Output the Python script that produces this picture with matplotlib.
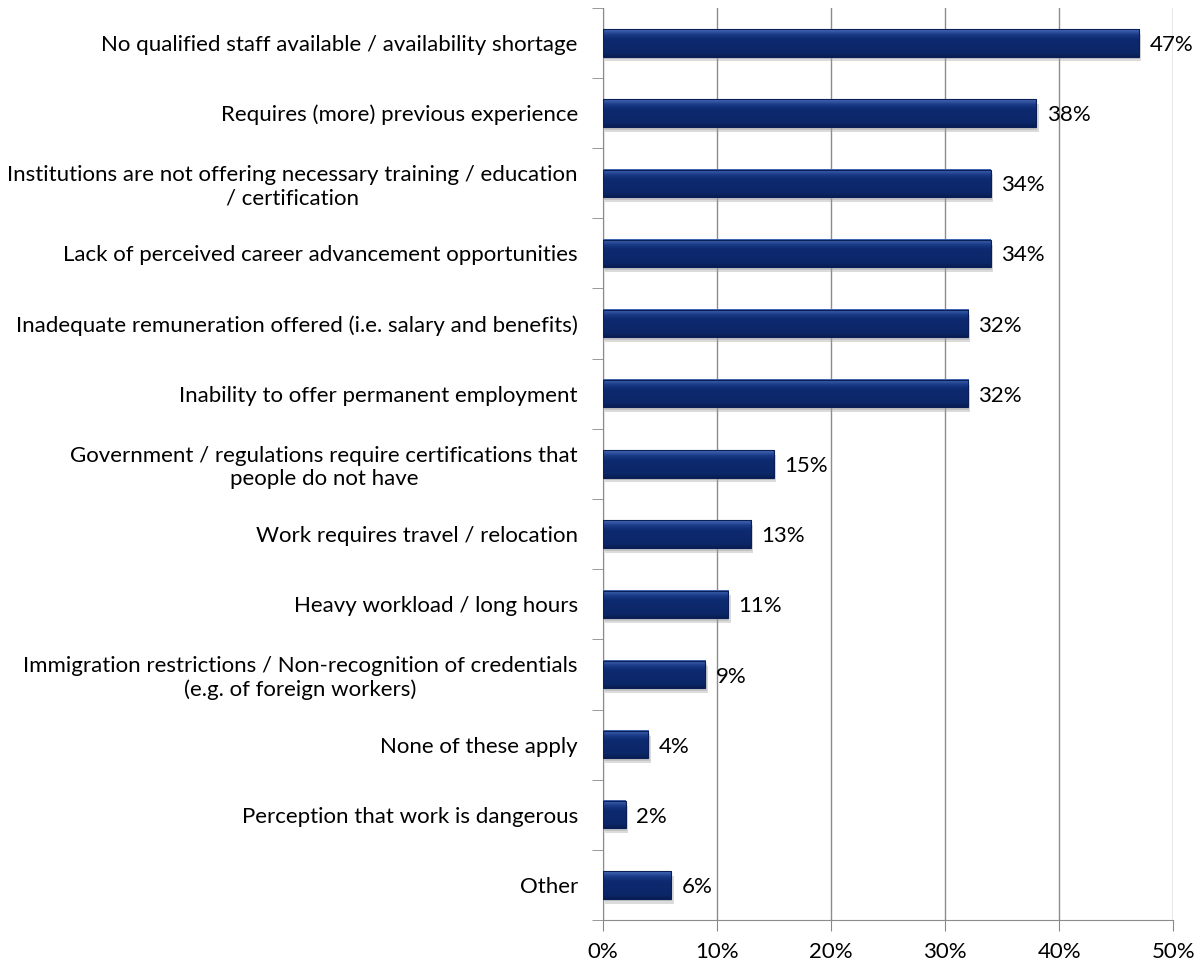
import matplotlib.pyplot as plt
import numpy as np
from matplotlib.colors import LinearSegmentedColormap

categories = [
    "No qualified staff available / availability shortage",
    "Requires (more) previous experience",
    "Institutions are not offering necessary training / education\n/ certification",
    "Lack of perceived career advancement opportunities",
    "Inadequate remuneration offered (i.e. salary and benefits)",
    "Inability to offer permanent employment",
    "Government / regulations require certifications that\npeople do not have",
    "Work requires travel / relocation",
    "Heavy workload / long hours",
    "Immigration restrictions / Non-recognition of credentials\n(e.g. of foreign workers)",
    "None of these apply",
    "Perception that work is dangerous",
    "Other",
]
values = [47, 38, 34, 34, 32, 32, 15, 13, 11, 9, 4, 2, 6]
xticks = [0, 10, 20, 30, 40, 50]
xtick_labels = ["0%", "10%", "20%", "30%", "40%", "50%"]

plt.rcParams["font.family"] = ["Lato", "DejaVu Sans"]
FS = 16

fig = plt.figure(figsize=(11.96, 9.71), dpi=100)
ax = fig.add_axes([0.504, 0.0525, 0.477, 0.9395])

n = len(categories)
y = np.arange(n)
h = 0.39

# bevel-like vertical gradient for each bar
cmap = LinearSegmentedColormap.from_list(
    "bevel", [(0, "#4a6cb8"), (0.18, "#1b3d8a"), (0.35, "#0e2a70"), (0.85, "#0c2768"), (1, "#081d52")]
)
grad = np.linspace(0, 1, 64).reshape(-1, 1)

for yi, v in zip(y, values):
    # soft shadow below the bar
    ax.barh(yi + 0.07, v, height=h, left=0.2, color="#9a9a9a", alpha=0.35, zorder=2, linewidth=0)
    ax.barh(yi + 0.04, v, height=h, left=0.1, color="#9a9a9a", alpha=0.35, zorder=2, linewidth=0)
    ax.imshow(grad, cmap=cmap, aspect="auto", extent=(0, v, yi + h / 2, yi - h / 2),
              zorder=3, interpolation="bilinear")
    ax.barh(yi, v, height=h, fill=False, edgecolor="#0a1f55", linewidth=0.8, zorder=4)
    ax.text(v + 0.9, yi + 0.03, f"{v}%", va="center", ha="left", fontsize=FS, zorder=5)

ax.set_ylim(n - 0.5, -0.5)
ax.set_xlim(0, 50)
ax.set_yticks(y)
ax.set_yticklabels(categories, fontsize=FS)
ax.set_yticks(np.arange(-0.5, n, 1), minor=True)
ax.tick_params(axis="y", which="major", length=0, pad=18)
ax.tick_params(axis="y", which="minor", length=8, color="#888888", direction="out")
ax.set_xticks(xticks)
ax.set_xticklabels(xtick_labels, fontsize=FS)
ax.tick_params(axis="x", length=8, color="#888888", direction="out", pad=8)
for lab in ax.get_yticklabels():
    lab.set_multialignment("center")

ax.grid(axis="x", color="#8c8c8c", linewidth=1, zorder=0)
ax.set_axisbelow(True)
for s in ["top", "right"]:
    ax.spines[s].set_visible(False)
for s in ["left", "bottom"]:
    ax.spines[s].set_color("#8c8c8c")

fig.savefig("out.png", dpi=100)
